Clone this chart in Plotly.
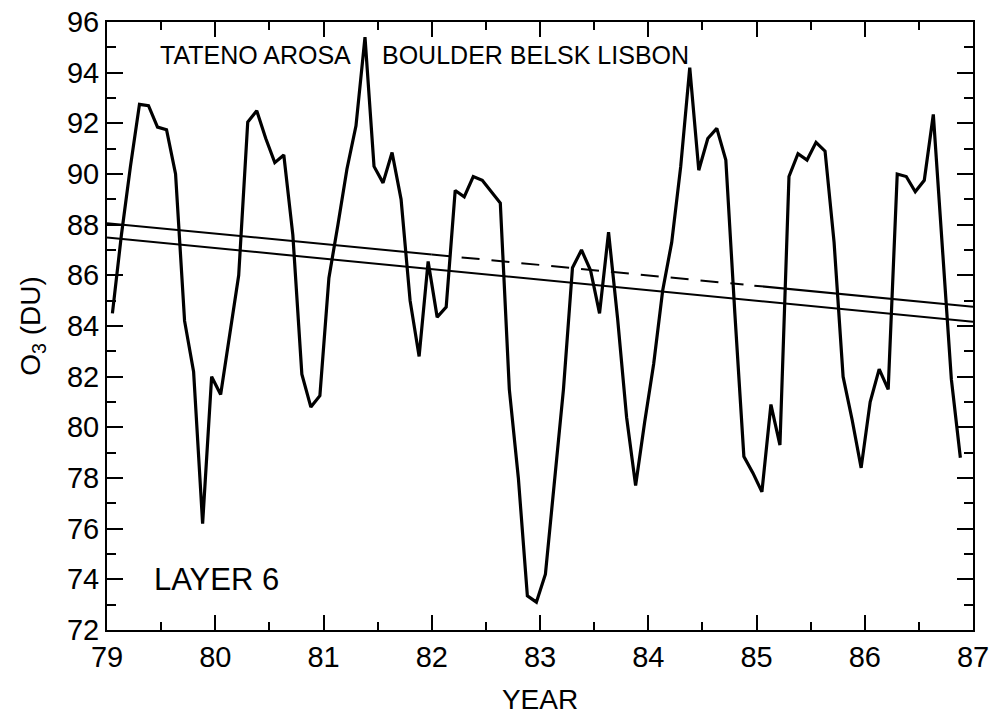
import plotly.graph_objects as go

# monthly ozone, layer 6, Jan 1979 .. Nov 1986 (DU)
o3 = [
    84.5, 87.6, 90.3, 92.75, 92.7, 91.85, 91.75, 90.0, 84.2, 82.2, 76.2, 82.0,
    81.3, 83.6, 86.0, 92.05, 92.5, 91.4, 90.45, 90.75, 87.6, 82.1, 80.8, 81.25,
    85.9, 88.0, 90.2, 91.9, 95.4, 90.3, 89.65, 90.85, 89.0, 85.0, 82.8, 86.55,
    84.35, 84.75, 89.35, 89.1, 89.9, 89.75, 89.3, 88.85, 81.5, 78.0, 73.35, 73.1,
    74.2, 77.7, 81.5, 86.3, 87.0, 86.2, 84.5, 87.7, 84.3, 80.4, 77.7, 80.2,
    82.5, 85.4, 87.3, 90.3, 94.2, 90.15, 91.4, 91.8, 90.55, 84.5, 78.85, 78.2,
    77.45, 80.9, 79.3, 89.9, 90.8, 90.55, 91.25, 90.9, 87.3, 82.0, 80.3, 78.4,
    81.0, 82.3, 81.5, 90.0, 89.9, 89.3, 89.75, 92.35, 87.3, 81.9, 78.8,
]
years = [79.05 + i / 12 for i in range(len(o3))]

# linear trend fits (start/end values)
trend_upper = [88.06, 84.76]
trend_lower = [87.49, 84.17]
trend_x = [79.0, 87.0]
dash_from, dash_to = 82.0, 84.88
gap_to = 84.98


def upper_at(x):
    return trend_upper[0] + (trend_upper[1] - trend_upper[0]) * (x - 79.0) / 8.0


FONT = "Liberation Sans, Arial, sans-serif"

fig = go.Figure()
fig.add_trace(go.Scatter(x=years, y=o3, mode="lines",
                         line=dict(color="black", width=3.2), showlegend=False))
fig.add_trace(go.Scatter(x=trend_x, y=trend_lower, mode="lines",
                         line=dict(color="black", width=2), showlegend=False))
fig.add_trace(go.Scatter(x=[79.0, dash_from], y=[upper_at(79.0), upper_at(dash_from)], mode="lines",
                         line=dict(color="black", width=2), showlegend=False))
fig.add_trace(go.Scatter(x=[dash_from, dash_to], y=[upper_at(dash_from), upper_at(dash_to)], mode="lines",
                         line=dict(color="black", width=2, dash="18px,12px"), showlegend=False))
fig.add_trace(go.Scatter(x=[gap_to, 87.0], y=[upper_at(gap_to), upper_at(87.0)], mode="lines",
                         line=dict(color="black", width=2), showlegend=False))

fig.add_annotation(x=79.47, y=94.7, text="TATENO AROSA", showarrow=False, xanchor="left",
                   font=dict(size=25, color="black", family=FONT))
fig.add_annotation(x=81.52, y=94.7, text="BOULDER BELSK LISBON", showarrow=False, xanchor="left",
                   font=dict(size=25, color="black", family=FONT))
fig.add_annotation(x=79.42, y=74.0, text="LAYER 6", showarrow=False, xanchor="left",
                   font=dict(size=31, color="black", family=FONT))

axis_common = dict(showgrid=False, zeroline=False, showline=True, linecolor="black", linewidth=2,
                   mirror="ticks", ticks="inside", tickcolor="black", tickwidth=2, automargin=False,
                   tickfont=dict(size=29, color="black", family=FONT))
fig.update_xaxes(range=[79, 87], dtick=1, tick0=79, ticklen=15,
                 minor=dict(dtick=0.5, tick0=79, ticks="inside", ticklen=8, tickcolor="black", tickwidth=2),
                 title=dict(text="YEAR", font=dict(size=28, color="black", family=FONT), standoff=18),
                 **axis_common)
fig.update_yaxes(range=[72, 96], dtick=2, tick0=72, ticklen=16,
                 minor=dict(dtick=1, tick0=72, ticks="inside", ticklen=9, tickcolor="black", tickwidth=2),
                 title=dict(text="O<sub>3</sub> (DU)", font=dict(size=28, color="black", family=FONT), standoff=18),
                 **axis_common)
fig.update_layout(width=994, height=720, plot_bgcolor="white", paper_bgcolor="white",
                  margin=dict(l=107, r=21, t=22, b=90), font=dict(family=FONT, color="black"))
fig.write_html("out.html", config={"displayModeBar": False},
               post_script="document.body.style.margin='0px';")
